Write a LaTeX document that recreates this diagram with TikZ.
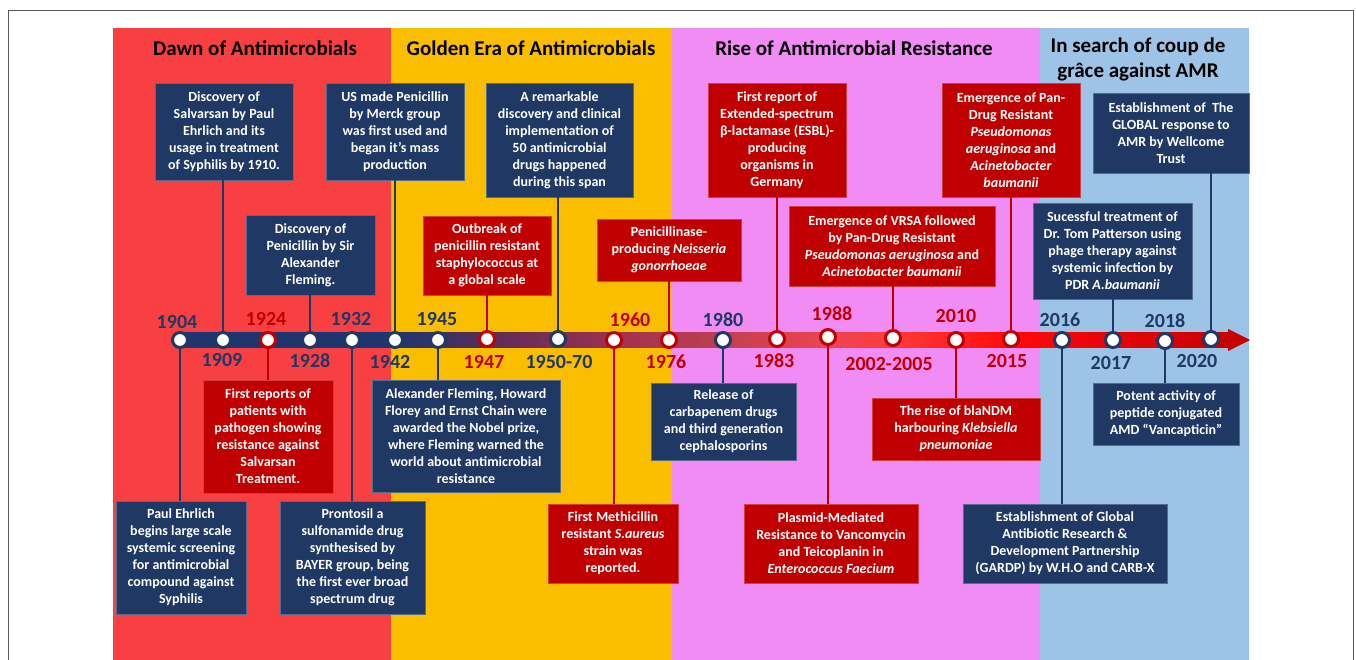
\documentclass[tikz,border=0pt]{standalone}
\usepackage{fontspec}
\setmainfont{Carlito}
\usepackage{xcolor}
\definecolor{bandred}{RGB}{248,64,66}
\definecolor{bandgold}{RGB}{250,190,0}
\definecolor{bandpink}{RGB}{242,140,245}
\definecolor{bandblue}{RGB}{157,195,230}
\definecolor{navy}{RGB}{31,56,100}
\definecolor{crimson}{RGB}{192,0,0}
\definecolor{tlA}{HTML}{1F3570}
\definecolor{tlB}{HTML}{5A2C5A}
\definecolor{tlC}{HTML}{9E3050}
\definecolor{tlD}{HTML}{C04050}
\definecolor{tlE}{HTML}{EE4450}
\definecolor{tlF}{HTML}{FF3A3A}
\definecolor{tlG}{HTML}{FF0A0A}
\definecolor{tlH}{HTML}{C80000}
\usepackage{tikz}
\usetikzlibrary{positioning}
\pgfdeclarehorizontalshading{timeline}{100bp}{color(0bp)=(tlA); color(35.6bp)=(tlA); color(39.8bp)=(tlB); color(45.8bp)=(tlC); color(50.9bp)=(tlD); color(55.9bp)=(tlE); color(59bp)=(tlF); color(64.5bp)=(tlG); color(75bp)=(tlH); color(100bp)=(tlH)}
\tikzset{
  every picture/.style = {
    x = 1pt,
    y = -1pt
  }
  ,
  era/.style = {
    font = \fontsize{21}{25}\selectfont\bfseries,
    align = center,
    inner sep = 0pt
  }
  , % event boxes
  evbox/.style 2 args = {
    rectangle,
    align = center,
    text = white,
    inner sep = 2pt,
    line width = 0.8pt,
    minimum width = #1pt,
    minimum height = #2pt,
    font = \fontsize{14}{17}\selectfont\bfseries
  }
  ,
  navybox/.style 2 args = {evbox={#1}{#2}, fill=navy, draw=navy!75!white}
  ,
  redbox/.style 2 args = {evbox={#1}{#2}, fill=crimson, draw=crimson!75!white}
  , % dots on the time line
  yrdot/.style = {
    circle,
    fill = white,
    line width = 3pt,
    minimum size = 15pt,
    inner sep = 0pt
  }
  ,
  navydot/.style = {yrdot, draw=navy}
  ,
  reddot/.style = {yrdot, draw=crimson}
  , % years
  yr/.style = {
    font = \fontsize{20}{24}\selectfont\bfseries,
    inner sep = 0pt
  }
  ,
  navyyr/.style = {yr, text=navy}
  ,
  redyr/.style = {yr, text=crimson}
  , % stems
  navystem/.style = {draw=navy, line width=2.5pt}
  ,
  redstem/.style = {draw=crimson, line width=2.5pt}
}

\begin{document}
\begin{tikzpicture}
\useasboundingbox (0,0) rectangle (1356,660);
% eras
\fill[bandred] (113,28) rectangle (391,660);
\fill[bandgold] (391,28) rectangle (672,660);
\fill[bandpink] (672,28) rectangle (1040,660);
\fill[bandblue] (1040,28) rectangle (1249,660);
\draw[black!65, line width=1pt] (8,11) rectangle (1353,662);
\node[era] at (255,48) (dawn) {Dawn of Antimicrobials};
\node[era] at (531,48) (golden) {Golden Era of Antimicrobials};
\node[era] at (854,48) (rise) {Rise of Antimicrobial Resistance};
\node[era] at (1138,59) (search) {In search of coup de\\grâce against AMR};

% time line
\coordinate (tstart) at (175,340);
\coordinate (tend) at (1250,340);
\shade[shading=timeline] (175,332.5) rectangle (1232,347.5);
\fill[tlH] (1228,329) -- (tend) -- (1228,351) -- cycle;

% dots and years
\node[navydot] at (180,340) (c1904) {};
\node[navydot] at (223,340) (c1909) {};
\node[reddot] at (268,340) (c1924) {};
\node[navydot] at (310,340) (c1928) {};
\node[navydot] at (352,340) (c1932) {};
\node[navydot] at (395,340) (c1942) {};
\node[navydot] at (438,340) (c1945) {};
\node[reddot] at (487,339) (c1947) {};
\node[navydot] at (558,339) (c1950) {};
\node[reddot] at (614,340) (c1960) {};
\node[reddot] at (669,340) (c1976) {};
\node[navydot] at (723,340) (c1980) {};
\node[reddot] at (777,339) (c1983) {};
\node[reddot] at (828,337) (c1988) {};
\node[reddot] at (893,338) (c2002) {};
\node[reddot] at (956,340) (c2010) {};
\node[reddot] at (1011,339) (c2015) {};
\node[navydot] at (1062,340) (c2016) {};
\node[navydot] at (1113,340) (c2017) {};
\node[navydot] at (1165,341) (c2018) {};
\node[navydot] at (1211,339) (c2020) {};

\node[navyyr] at (177,322) (l1904) {1904};
\node[navyyr] at (222,360) (l1909) {1909};
\node[redyr] at (266,319) (l1924) {1924};
\node[navyyr] at (310,361) (l1928) {1928};
\node[navyyr] at (351,319) (l1932) {1932};
\node[navyyr] at (390,362) (l1942) {1942};
\node[navyyr] at (437,319) (l1945) {1945};
\node[redyr] at (484,362) (l1947) {1947};
\node[navyyr] at (559,362) (l1950) {1950-70};
\node[redyr] at (630,320) (l1960) {1960};
\node[redyr] at (666,362) (l1976) {1976};
\node[navyyr] at (723,320) (l1980) {1980};
\node[redyr] at (774,361) (l1983) {1983};
\node[redyr] at (832,314) (l1988) {1988};
\node[redyr] at (889,364) (l2002) {2002-2005};
\node[redyr] at (956,316) (l2010) {2010};
\node[redyr] at (1007,361) (l2015) {2015};
\node[navyyr] at (1060,320) (l2016) {2016};
\node[navyyr] at (1111,363) (l2017) {2017};
\node[navyyr] at (1165,321) (l2018) {2018};
\node[navyyr] at (1197,361) (l2020) {2020};

% events above the line
\node[navybox={138}{97}] at (224,131.5) (salvarsan) {Discovery of\\Salvarsan by Paul\\Ehrlich and its\\usage in treatment\\of Syphilis by 1910.};
\node[navybox={129}{80}] at (310.5,255) (penicillin) {Discovery of\\Penicillin by Sir\\Alexander\\Fleming.};
\node[navybox={138}{97}] at (395,131.5) (merck) {US made Penicillin\\by Merck group\\was first used and\\began it’s mass\\production};
\node[navybox={147}{114}] at (559.5,140) (golden50) {A remarkable\\discovery and clinical\\implementation of\\50 antimicrobial\\drugs happened\\during this span};
\node[redbox={128}{79}] at (487,255.5) (outbreak) {Outbreak of\\penicillin resistant\\staphylococcus at\\a global scale};
\node[redbox={144}{62}] at (669,250) (neisseria) {Penicillinase-\\producing \textit{Neisseria}\\\textit{gonorrhoeae}};
\node[redbox={138}{114}] at (777,140) (esbl) {First report of\\Extended-spectrum\\β-lactamase (ESBL)-\\producing\\organisms in\\Germany};
\node[redbox={206}{80}] at (892,246) (vrsa) {Emergence of VRSA followed\\by Pan-Drug Resistant\\\textit{Pseudomonas aeruginosa} and\\\textit{Acinetobacter baumanii}};
\node[redbox={138}{114}] at (1011,140) (pandrug) {Emergence of Pan-\\Drug Resistant\\\textit{Pseudomonas}\\\textit{aeruginosa} and\\\textit{Acinetobacter}\\\textit{baumanii}};
\node[navybox={159}{96}] at (1112.5,251) (phage) {Sucessful treatment of\\Dr. Tom Patterson using\\phage therapy against\\systemic infection by\\PDR \textit{A.baumanii}};
\node[navybox={156}{80}] at (1171,133) (wellcome) {Establishment of~ The\\GLOBAL response to\\AMR by Wellcome\\Trust};

% events below the line
\node[navybox={130}{113}] at (181,557.5) (ehrlich) {Paul Ehrlich\\begins large scale\\systemic screening\\for antimicrobial\\compound against\\Syphilis};
\node[redbox={130}{113}] at (268,436.5) (firstres) {First reports of\\patients with\\pathogen showing\\resistance against\\Salvarsan\\Treatment.};
\node[navybox={145}{113}] at (352.5,557.5) (prontosil) {Prontosil a\\sulfonamide drug\\synthesised by\\BAYER group, being\\the first ever broad\\spectrum drug};
\node[navybox={188}{112}] at (466,436) (nobel) {Alexander Fleming, Howard\\Florey and Ernst Chain were\\awarded the Nobel prize,\\where Fleming warned the\\world about antimicrobial\\resistance};
\node[redbox={130}{79}] at (613,543.5) (mrsa) {First Methicillin\\resistant \textit{S.aureus}\\strain was\\reported.};
\node[navybox={145}{77}] at (723.5,421.5) (carbapenem) {Release of\\carbapenem drugs\\and third generation\\cephalosporins};
\node[redbox={174}{79}] at (831,543.5) (plasmid) {Plasmid-Mediated\\Resistance to Vancomycin\\and Teicoplanin in\\\textit{Enterococcus Faecium}};
\node[redbox={168}{62}] at (956,429) (ndm) {The rise of blaNDM\\harbouring \textit{Klebsiella}\\\textit{pneumoniae}};
\node[navybox={204}{79}] at (1065,543.5) (gardp) {Establishment of Global\\Antibiotic Research \&\\Development Partnership\\(GARDP) by W.H.O and CARB-X};
\node[navybox={146}{62}] at (1166,414) (vancap) {Potent activity of\\peptide conjugated\\AMD “Vancapticin”};

% stems
\path[navystem] (c1904) -- (c1904 |- ehrlich.north);
\path[navystem] (c1909) -- (c1909 |- salvarsan.south);
\path[redstem] (c1924) -- (c1924 |- firstres.north);
\path[navystem] (c1928) -- (c1928 |- penicillin.south);
\path[navystem] (c1932) -- (c1932 |- prontosil.north);
\path[navystem] (c1942) -- (c1942 |- merck.south);
\path[navystem] (c1945) -- (c1945 |- nobel.north);
\path[redstem] (c1947) -- (c1947 |- outbreak.south);
\path[navystem] (c1950) -- (c1950 |- golden50.south);
\path[redstem] (c1960) -- (c1960 |- mrsa.north);
\path[redstem] (c1976) -- (c1976 |- neisseria.south);
\path[navystem] (c1980) -- (c1980 |- carbapenem.north);
\path[redstem] (c1983) -- (c1983 |- esbl.south);
\path[redstem] (c1988) -- (c1988 |- plasmid.north);
\path[redstem] (c2002) -- (c2002 |- vrsa.south);
\path[redstem] (c2010) -- (c2010 |- ndm.north);
\path[redstem] (c2015) -- (c2015 |- pandrug.south);
\path[navystem] (c2016) -- (c2016 |- gardp.north);
\path[navystem] (c2017) -- (c2017 |- phage.south);
\path[navystem] (c2018) -- (c2018 |- vancap.north);
\path[navystem] (c2020) -- (c2020 |- wellcome.south);
\end{tikzpicture}
\end{document}
